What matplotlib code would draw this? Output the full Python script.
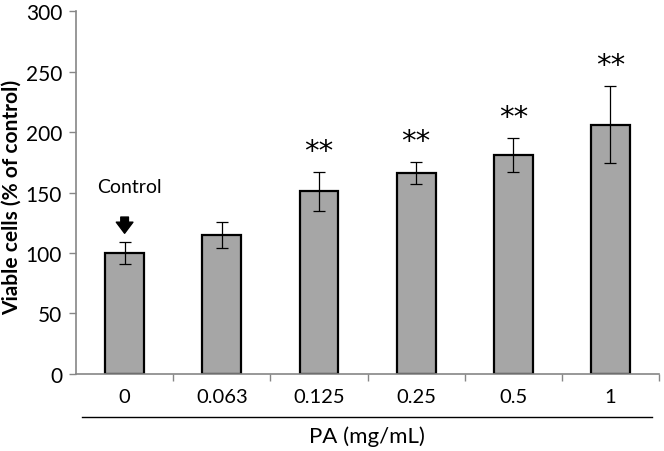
import matplotlib.pyplot as plt
from matplotlib.lines import Line2D

# data
doses = ["0", "0.063", "0.125", "0.25", "0.5", "1"]
viable = [100, 115, 151, 166, 181, 206]
err = [9, 11, 16, 9, 14, 32]
signif = ["", "", "**", "**", "**", "**"]

plt.rcParams['font.family'] = ['Lato', 'DejaVu Sans']
gray = "#868686"

fig = plt.figure(figsize=(6.64, 4.52), dpi=100)
ax = fig.add_axes([0.1145, 0.1704, 0.878, 0.803])

x = range(len(doses))
ax.bar(x, viable, width=0.4, color="#a6a6a6", edgecolor="black", linewidth=1.6,
       yerr=err, error_kw=dict(ecolor="black", elinewidth=0.9, capsize=4, capthick=0.9),
       zorder=2)

for i, s in enumerate(signif):
    if s:
        ax.text(i, viable[i] + err[i] + 6, s, ha="center", va="bottom",
                fontsize=21, family="DejaVu Sans")

# control marker
ax.annotate("", xy=(0, 114), xytext=(0, 132),
            arrowprops=dict(arrowstyle="simple,head_width=1.2,head_length=0.8,tail_width=0.55",
                            color="black"))
ax.text(0.05, 155, "Control", ha="center", va="center", fontsize=14)

ax.set_xlim(-0.5, len(doses) - 0.5)
ax.set_ylim(0, 300)
ax.set_yticks(range(0, 301, 50))
ax.set_xticks([i + 0.5 for i in range(len(doses))])
ax.set_xticklabels([])
ax.tick_params(axis="x", direction="out", length=5, color=gray, width=1)
ax.tick_params(axis="y", direction="out", length=5, color=gray, width=1, labelsize=15, pad=5)

for i, d in enumerate(doses):
    ax.text(i, -12, d, ha="center", va="top", fontsize=14.5, transform=ax.transData)

for side in ["top", "right"]:
    ax.spines[side].set_visible(False)
ax.spines["left"].set_color(gray)
ax.spines["bottom"].set_color(gray)
ax.spines["left"].set_linewidth(1.2)
ax.spines["bottom"].set_linewidth(1.2)

ax.set_ylabel("Viable cells (% of control)", fontsize=15, fontweight="bold")
ax.yaxis.set_label_coords(-0.093, 0.49)

# separator line under the dose labels
fig.add_artist(Line2D([82 / 664, 652 / 664], [1 - 418 / 452, 1 - 418 / 452],
                      color="black", linewidth=1))
fig.text(367 / 664, 1 - 437 / 452, "PA (mg/mL)", ha="center", va="center", fontsize=16)

fig.savefig("out.png", dpi=100)
